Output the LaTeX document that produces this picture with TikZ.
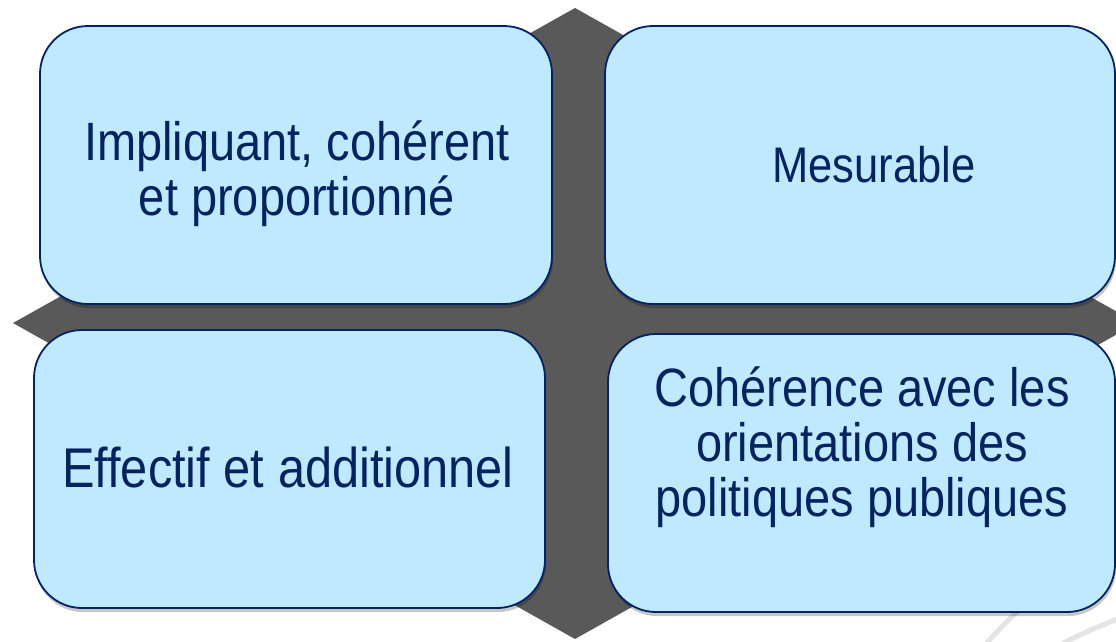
\documentclass[tikz,border=0pt]{standalone}
\usepackage{fontspec}
\setmainfont{Liberation Sans}
\newfontfamily\lblfont[FakeStretch=0.87]{Liberation Sans}
\usetikzlibrary{shadows}
\definecolor{boxfill}{RGB}{190,233,255}
\definecolor{boxline}{RGB}{5,35,100}
\definecolor{txt}{RGB}{5,35,95}
\definecolor{crossgray}{RGB}{89,89,89}
\definecolor{swoosh}{RGB}{228,228,228}
\begin{document}
\begin{tikzpicture}[x=1pt,y=-1pt,
  quad/.style={draw=boxline, line width=1.8pt, fill=boxfill, rounded corners=48pt,
    inner sep=0pt, outer sep=0pt,
    drop shadow={shadow xshift=1pt, shadow yshift=-4pt, opacity=0.22, fill=black}},
  lbl/.style={text=txt, align=center, inner sep=0pt, font=\lblfont\fontsize{54}{55}\selectfont},
  bgline/.style={draw=swoosh, line width=5pt}]
\useasboundingbox (0,0) rectangle (1116,641);
% background swooshes
\draw[bgline] (985,645) .. controls (1000,628) and (1010,618) .. (1030,600);
\draw[bgline] (1060,645) .. controls (1080,634) and (1100,626) .. (1125,616);
% gray rhombus behind
\fill[crossgray] (575,8) -- (13,323) -- (575,639) -- (1137,323) -- cycle;
% boxes
\node[quad, minimum width=512pt, minimum height=278pt] (tl) at (296,165) {};
\node[quad, minimum width=510pt, minimum height=278pt] (tr) at (860,165) {};
\node[quad, minimum width=511pt, minimum height=278pt] (bl) at (289.5,469) {};
\node[quad, minimum width=507pt, minimum height=278pt] (br) at (861.5,473) {};
% labels
\node[lbl] (tlt) at (297,174) {Impliquant, cohérent\\et proportionné};
\node[lbl, font=\lblfont\fontsize{50}{55}\selectfont] (trt) at (874,165) {Mesurable};
\node[lbl, font=\lblfont\fontsize{56}{55}\selectfont] (blt) at (288,467) {Effectif et additionnel};
\node[lbl] (brt) at (862,447) {Cohérence avec les\\orientations des\\politiques publiques};
\end{tikzpicture}
\end{document}
